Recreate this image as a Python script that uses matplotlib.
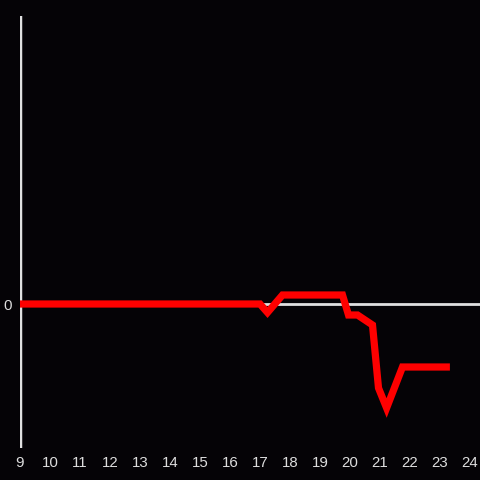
import matplotlib
matplotlib.use("Agg")
import matplotlib.pyplot as plt

hours = [9, 17.0, 17.25, 17.75, 19.75, 19.95, 20.25, 20.75, 20.95, 21.22, 21.75, 23.33]
values = [0, 0, -0.85, 0.9, 0.9, -1.1, -1.1, -2.1, -8.4, -10.4, -6.3, -6.3]
xticks = list(range(9, 25))
yticks = [0]

bg = "#050306"
fig = plt.figure(figsize=(4.8, 4.8), dpi=100, facecolor=bg)
ax = fig.add_axes([20/480, 32/480, 460/480, 432/480], facecolor=bg)
ax.set_xlim(9, 9 + 460/30)
ax.set_ylim(-14.4, 28.8)
for s in ax.spines.values():
    s.set_visible(False)
ax.axvline(9, color="#e0e0e0", lw=2.5, zorder=1)
ax.axhline(0, color="#e0e0e0", lw=2, zorder=1)
ax.plot(hours, values, color="#ff0000", lw=5.2, solid_joinstyle="miter", solid_capstyle="butt", zorder=3)
ax.set_xticks(xticks)
ax.set_xticklabels([str(t) for t in xticks])
ax.set_yticks(yticks)
ax.set_yticklabels(["0"])
ax.tick_params(length=0, colors="#dddddd", labelsize=10.8, pad=5.5)
for lab in ax.get_xticklabels() + ax.get_yticklabels():
    lab.set_family(["Liberation Sans", "DejaVu Sans"])
fig.savefig("out.png", dpi=100, facecolor=bg)
